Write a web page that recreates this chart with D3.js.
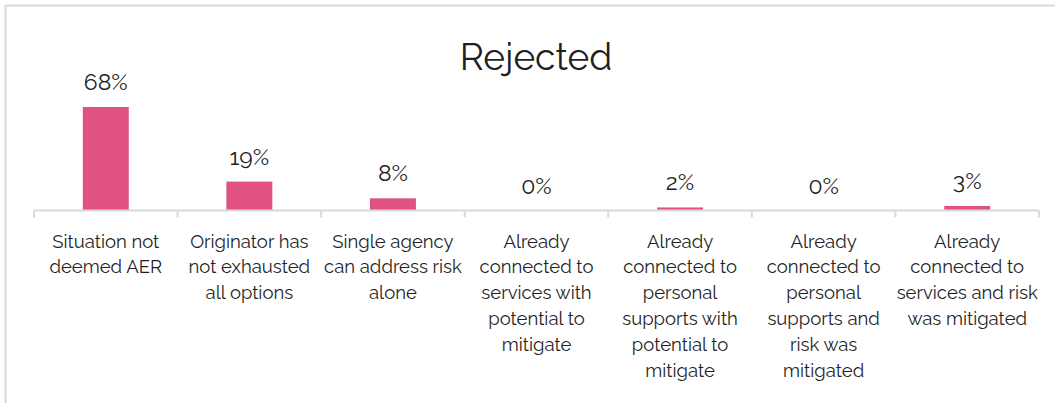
<!DOCTYPE html>
<html>
  <head>
    <title>Rejected</title>
    <script src="https://cdn.jsdelivr.net/npm/d3@7/dist/d3.min.js"></script>
    <style>
      body { margin: 0; background: #fff; }
      text { font-family: Raleway, Lato, 'Open Sans', sans-serif; fill: #1f1f1f; }
    </style>
  </head>
  <body>
    <svg width='1055' height='403'></svg>
    <script>
      const svg = d3.select('svg');
      const width  = +svg.attr('width');
      const height = +svg.attr('height');

      // data
      const title = 'Rejected';
      const categories = [
        ['Situation not', 'deemed AER'],
        ['Originator has', 'not exhausted', 'all options'],
        ['Single agency', 'can address risk', 'alone'],
        ['Already', 'connected to', 'services with', 'potential to', 'mitigate'],
        ['Already', 'connected to', 'personal', 'supports with', 'potential to', 'mitigate'],
        ['Already', 'connected to', 'personal', 'supports and', 'risk was', 'mitigated'],
        ['Already', 'connected to', 'services and risk', 'was mitigated']
      ];
      const values = [68, 19, 8, 0, 2, 0, 3];
      const labels = ['68%', '19%', '8%', '0%', '2%', '0%', '3%'];

      const barColor = '#df5283';
      const gridColor = '#d9d9d9';

      // outer frame
      svg.append('rect')
        .attr('x', 5.5).attr('y', 5.5)
        .attr('width', width + 10).attr('height', height + 10)
        .attr('fill', 'none')
        .attr('stroke', gridColor)
        .attr('stroke-width', 2);

      const margin = {left: 34, right: 16, baseline: 210.5};

      const xScale = d3.scaleBand()
        .domain(d3.range(values.length))
        .range([margin.left, width - margin.right])
        .paddingInner(0.68)
        .paddingOuter(0.34);

      const yScale = d3.scaleLinear()
        .domain([0, 68])
        .range([margin.baseline, 107]);

      // title
      svg.append('text')
        .attr('x', 536)
        .attr('y', 70)
        .style('text-anchor', 'middle')
        .style('font-size', '37px')
        .text(title);

      // bars
      svg.selectAll('rect.bar').data(values)
        .enter().append('rect')
        .attr('class', 'bar')
        .attr('x', (d, i) => xScale(i))
        .attr('width', xScale.bandwidth())
        .attr('y', d => yScale(d))
        .attr('height', d => margin.baseline - yScale(d))
        .attr('fill', barColor);

      // axis line + tick marks
      const tickXs = d3.range(values.length + 1).map(i => margin.left + i * (width - margin.left - margin.right) / values.length);
      const axisG = svg.append('g');
      axisG.append('line')
        .attr('x1', tickXs[0]).attr('x2', tickXs[tickXs.length - 1])
        .attr('y1', margin.baseline).attr('y2', margin.baseline)
        .attr('stroke', gridColor).attr('stroke-width', 2);
      axisG.selectAll('line.tick').data(tickXs)
        .enter().append('line')
        .attr('class', 'tick')
        .attr('x1', d => d).attr('x2', d => d)
        .attr('y1', margin.baseline).attr('y2', margin.baseline + 7)
        .attr('stroke', gridColor).attr('stroke-width', 2);

      // value labels
      svg.selectAll('text.val').data(values)
        .enter().append('text')
        .attr('class', 'val')
        .attr('x', (d, i) => xScale(i) + xScale.bandwidth() / 2)
        .attr('y', d => yScale(d) - 17)
        .style('text-anchor', 'middle')
        .style('font-size', '23px')
        .text((d, i) => labels[i]);

      // category labels
      const catG = svg.selectAll('text.cat').data(categories)
        .enter().append('text')
        .attr('class', 'cat')
        .attr('x', (d, i) => xScale(i) + xScale.bandwidth() / 2)
        .attr('y', 247.5)
        .style('text-anchor', 'middle')
        .style('font-size', '18.5px');
      catG.selectAll('tspan').data(d => d)
        .enter().append('tspan')
        .attr('x', function() { return d3.select(this.parentNode).attr('x'); })
        .attr('dy', (d, i) => i === 0 ? 0 : 25.8)
        .text(d => d);
    </script>
  </body>
</html>
